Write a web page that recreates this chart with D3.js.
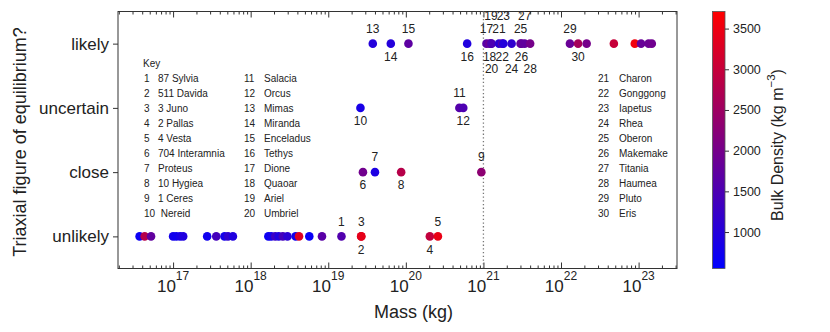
<!DOCTYPE html>
<html>
<head>
<meta charset="utf-8">
<script src="https://d3js.org/d3.v7.min.js"></script>
<style>
  body { margin: 0; background: #fff; }
  svg { display: block; font-family: "Liberation Sans", Arial, sans-serif; }
</style>
</head>
<body>
<div class="chart"></div>
<script>
// categories on the y axis, bottom to top
var categories = ["unlikely", "close", "uncertain", "likely"];

// names for the key, numbered 1..30
var keyNames = ["87 Sylvia", "511 Davida", "3 Juno", "2 Pallas", "4 Vesta",
  "704 Interamnia", "Proteus", "10 Hygiea", "1 Ceres", " Nereid",
  "Salacia", "Orcus", "Mimas", "Miranda", "Enceladus", "Tethys", "Dione",
  "Quaoar", "Ariel", "Umbriel", "Charon", "Gonggong", "Iapetus", "Rhea",
  "Oberon", "Makemake", "Titania", "Haumea", "Pluto", "Eris"];

// mass (kg), bulk density (kg m^-3) and key number for each row
var unlikelyMass = [3.7e16, 4.3e16, 5.2e16, 1.0e17, 1.1e17, 1.23e17, 1.35e17,
  2.75e17, 3.6e17, 4.6e17, 5.1e17, 5.9e17, 1.69e18, 1.84e18, 2.07e18, 2.3e18,
  2.6e18, 2.98e18, 3.8e18, 4.2e18, 5.7e18, 8.3e18, 1.48e19, 2.65e19, 2.67e19,
  2.04e20, 2.59e20];
var unlikelyDensity = [700, 2800, 1750, 800, 750, 850, 950, 750, 1400, 800,
  1150, 950, 700, 800, 1300, 950, 1400, 1100, 750, 3300, 650, 1650, 1550,
  3200, 3400, 2950, 3450];
var unlikelyLabel = [null, null, null, null, null, null, null, null, null, null,
  null, null, null, null, null, null, null, null, null, null, null, null,
  1, 2, 3, 4, 5];

var closeMass = [2.8e19, 4.0e19, 8.7e19, 9.4e20];
var closeDensity = [1950, 900, 2800, 2300];
var closeLabel = [6, 7, 8, 9];

var uncertainMass = [2.6e19, 4.9e20, 5.5e20];
var uncertainDensity = [850, 1600, 1500];
var uncertainLabel = [10, 11, 12];

var likelyMass = [3.75e19, 6.4e19, 1.08e20, 6.17e20, 1.095e21, 1.2e21,
  1.25e21, 1.275e21, 1.586e21, 1.75e21, 1.806e21, 2.307e21, 3.01e21, 3.1e21,
  3.4e21, 4.0e21, 1.303e22, 1.66e22, 2.14e22, 4.8e22, 8.93e22,
  1.076e23, 1.345e23, 1.48e23];
var likelyDensity = [1000, 1000, 1700, 950, 1650, 1900, 1700, 1500, 1100,
  1700, 1000, 1150, 1750, 1800, 1750, 2000, 1850, 2600, 2000, 3000,
  3550, 1830, 1880, 1940];
var likelyLabel = [13, 14, 15, 16, 17, 18, 19, 20, 21, 22, 23, 24, 25, 26,
  27, 28, 29, 30, null, null, null, null, null, null];

var massTicks = [1e17, 1e18, 1e19, 1e20, 1e21, 1e22, 1e23];
var densityTicks = [1000, 1500, 2000, 2500, 3000, 3500];
var dividerMass = 1e21;

var svgWidth = 830;
var svgHeight = 332;
var margin = { top: 11.5, left: 118, right: 153, bottom: 63.5 };
var width = svgWidth - margin.left - margin.right;
var height = svgHeight - margin.top - margin.bottom;

var svg = d3.select(".chart").append("svg")
  .attr("width", svgWidth)
  .attr("height", svgHeight);

var xScale = d3.scaleLog()
  .domain([Math.pow(10, 16.29), Math.pow(10, 23.495)])
  .range([0, width]);
var yScale = d3.scaleLinear()
  .domain([0.5, 4.5])
  .range([height, 0]);
var colorScale = d3.scaleLinear()
  .domain([552, 3710])
  .range(["#0000ff", "#ff0000"])
  .interpolate(d3.interpolateRgb);

var chartGroup = svg.append("g")
  .attr("transform", `translate(${margin.left}, ${margin.top})`);

// build point table from the row arrays
var rows = [
  [unlikelyMass, unlikelyDensity, unlikelyLabel],
  [closeMass, closeDensity, closeLabel],
  [uncertainMass, uncertainDensity, uncertainLabel],
  [likelyMass, likelyDensity, likelyLabel]
];
var points = [];
rows.forEach(function(r, i) {
  r[0].forEach(function(m, j) {
    points.push({ mass: m, density: r[1][j], label: r[2][j], cat: i + 1 });
  });
});

// minor ticks for the log axis
var minorTicks = [];
for (var e = 16; e <= 23; e++) {
  for (var k = 2; k <= 9; k++) {
    var v = k * Math.pow(10, e);
    if (v > xScale.domain()[0] && v < xScale.domain()[1]) minorTicks.push(v);
  }
}

var axisColor = "#333";

// bottom + top ticks, pointing inwards
[height, 0].forEach(function(y0) {
  var sgn = y0 === 0 ? 1 : -1;
  var g1 = chartGroup.append("g")
    .attr("transform", `translate(0, ${y0})`)
    .call(d3.axisBottom(xScale).tickValues(massTicks).tickSize(sgn * 6).tickFormat(""));
  var g2 = chartGroup.append("g")
    .attr("transform", `translate(0, ${y0})`)
    .call(d3.axisBottom(xScale).tickValues(minorTicks).tickSize(sgn * 3).tickFormat(""));
  [g1, g2].forEach(function(g) {
    g.select(".domain").remove();
    g.selectAll("line").attr("stroke", axisColor);
  });
});

// x tick labels 10^n
chartGroup.append("g").selectAll("text")
  .data(massTicks)
  .enter()
  .append("text")
  .attr("x", d => xScale(d))
  .attr("y", height + 23.5)
  .attr("text-anchor", "middle")
  .attr("font-size", 17)
  .attr("fill", "#222")
  .each(function(d) {
    var t = d3.select(this);
    t.append("tspan").text("10");
    t.append("tspan").attr("dy", -12).attr("font-size", 12)
      .text(Math.round(Math.log10(d)));
  });

// y axis, ticks outward
var leftAxis = d3.axisLeft(yScale)
  .tickValues([1, 2, 3, 4])
  .tickSize(5)
  .tickPadding(4)
  .tickFormat(d => categories[d - 1]);
var yAxis = chartGroup.append("g").call(leftAxis);
yAxis.select(".domain").remove();
yAxis.selectAll("line").attr("stroke", axisColor);
yAxis.selectAll("text")
  .attr("font-size", 17)
  .attr("font-family", "'Liberation Sans', Arial, sans-serif")
  .attr("fill", "#222");

// frame
chartGroup.append("rect")
  .attr("width", width)
  .attr("height", height)
  .attr("fill", "none")
  .attr("stroke", axisColor)
  .attr("stroke-width", 1);

// dotted divider
chartGroup.append("line")
  .attr("x1", xScale(dividerMass))
  .attr("x2", xScale(dividerMass))
  .attr("y1", 0)
  .attr("y2", height)
  .attr("stroke", "#777")
  .attr("stroke-width", 1.3)
  .attr("stroke-dasharray", "1.3,2.4");

// points
chartGroup.append("g").selectAll("circle")
  .data(points)
  .enter()
  .append("circle")
  .attr("cx", d => xScale(d.mass))
  .attr("cy", d => yScale(d.cat))
  .attr("r", 4.3)
  .attr("fill", d => colorScale(d.density));

// point labels: odd numbers above, even below, some on a second tier
var outerTier = [19, 20, 23, 24, 27, 28];
chartGroup.append("g").selectAll("text")
  .data(points.filter(d => d.label !== null))
  .enter()
  .append("text")
  .attr("x", d => xScale(d.mass))
  .attr("y", function(d) {
    var above = d.label % 2 === 1;
    var outer = outerTier.indexOf(d.label) >= 0;
    var off = above ? (outer ? -27.5 : -15) : (outer ? 25.5 : 13);
    return yScale(d.cat) + off + 4.3;
  })
  .attr("text-anchor", "middle")
  .attr("font-size", 12)
  .attr("fill", "#222")
  .text(d => d.label);

// key
var keyCols = [[144, 158], [244, 264], [598, 619]];
var keyGroup = svg.append("g").attr("font-size", 10).attr("fill", "#222");
keyGroup.append("text").attr("x", 143).attr("y", 66.5).text("Key");
keyNames.forEach(function(name, i) {
  var col = keyCols[Math.floor(i / 10)];
  var y = 81.5 + (i % 10) * 15.1;
  keyGroup.append("text").attr("x", col[0]).attr("y", y).text(i + 1);
  keyGroup.append("text").attr("x", col[1]).attr("y", y)
    .attr("xml:space", "preserve").style("white-space", "pre").text(name);
});

// axis titles
svg.append("text")
  .attr("transform", "translate(25.5, 142) rotate(-90)")
  .attr("text-anchor", "middle")
  .attr("font-size", 18)
  .attr("fill", "#222")
  .text("Triaxial figure of equilibrium?");

svg.append("text")
  .attr("x", margin.left + xScale(Math.pow(10, 20.1)))
  .attr("y", 318)
  .attr("text-anchor", "middle")
  .attr("font-size", 18)
  .attr("fill", "#222")
  .text("Mass (kg)");

// colour bar
var cbX = 712.5, cbW = 12.5;
var cbScale = d3.scaleLinear()
  .domain(colorScale.domain())
  .range([margin.top + height, margin.top]);
var grad = svg.append("defs").append("linearGradient")
  .attr("id", "cbGrad")
  .attr("x1", 0).attr("y1", 1).attr("x2", 0).attr("y2", 0);
grad.append("stop").attr("offset", 0).attr("stop-color", colorScale.range()[0]);
grad.append("stop").attr("offset", 1).attr("stop-color", colorScale.range()[1]);
svg.append("rect")
  .attr("x", cbX)
  .attr("y", margin.top)
  .attr("width", cbW)
  .attr("height", height)
  .attr("fill", "url(#cbGrad)")
  .attr("stroke", "#555")
  .attr("stroke-width", 0.8);
var cbAxis = svg.append("g")
  .attr("transform", `translate(${cbX + cbW}, 0)`)
  .call(d3.axisRight(cbScale).tickValues(densityTicks).tickSize(4).tickPadding(4)
    .tickFormat(d3.format("d")));
cbAxis.select(".domain").remove();
cbAxis.selectAll("line").attr("stroke", axisColor);
cbAxis.selectAll("text")
  .attr("font-size", 12.5)
  .attr("font-family", "'Liberation Sans', Arial, sans-serif")
  .attr("fill", "#222");

var cbLabel = svg.append("text")
  .attr("transform", "translate(783, 145) rotate(-90)")
  .attr("text-anchor", "middle")
  .attr("font-size", 16)
  .attr("fill", "#222");
cbLabel.append("tspan").text("Bulk Density (kg m");
cbLabel.append("tspan").attr("dy", -8).attr("font-size", 11.5).text("\u22123");
cbLabel.append("tspan").attr("dy", 8).text(")");
</script>
</body>
</html>
